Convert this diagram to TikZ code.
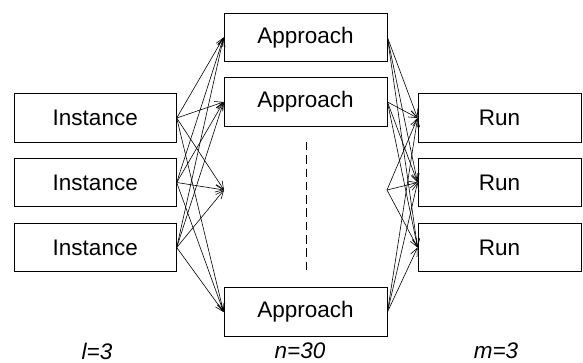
\documentclass[tikz,border=0pt]{standalone}
\usepackage{fontspec}
\setmainfont{Liberation Sans}
\usetikzlibrary{arrows.meta}
\begin{document}
\begin{tikzpicture}[x=1pt,y=-1pt,
  box/.style={draw=black,line width=0.9pt,rectangle,inner sep=0pt,
    minimum width=162pt,minimum height=48.5pt,
    font=\fontsize{22.5}{27}\selectfont},
  link/.style={line width=0.6pt,-{Straight Barb[length=8pt,width=7pt,line width=0.6pt]}},
  countlabel/.style={inner sep=0pt,font=\fontsize{22.5}{27}\selectfont\itshape}]
\useasboundingbox (0,0) rectangle (583,363);

% instances
\node[box] (i1) at (95.25,118) {Instance};
\node[box] (i2) at (95.25,182.5) {Instance};
\node[box] (i3) at (95.25,247.5) {Instance};

% approaches (the third one is elided by the dashed line)
\node[box,minimum width=163pt] (a1) at (305.5,37.5) {Approach};
\node[box,minimum width=163pt] (a2) at (305.5,102) {Approach};
\node[box,minimum width=163pt] (a4) at (305.5,312) {Approach};
\coordinate (a3w) at (224,190);
\coordinate (a3e) at (387,190);

% runs
\node[box,minimum width=163pt] (r1) at (499.5,118) {Run};
\node[box,minimum width=163pt] (r2) at (499.5,182.5) {Run};
\node[box,minimum width=163pt] (r3) at (499.5,247.5) {Run};

% elision mark
\coordinate (dtop) at (306,142);
\coordinate (dbot) at (306,270);
\draw[line width=1pt,dash pattern=on 8.5pt off 4.8pt] (dtop) -- (dbot);

% every instance feeds every approach
\foreach \i in {i1,i2,i3}{
  \draw[link] (\i.east) -- (a1.west);
  \draw[link] (\i.east) -- (a2.west);
  \draw[link] (\i.east) -- (a3w);
  \draw[link] (\i.east) -- (a4.west);
}

% every approach produces every run
\foreach \r in {r1,r2,r3}{
  \draw[link] (a1.east) -- (\r.west);
  \draw[link] (a2.east) -- (\r.west);
  \draw[link] (a3e) -- (\r.west);
  \draw[link] (a4.east) -- (\r.west);
}

% counts
\node[countlabel] (nl) at (97,351) {l=3};
\node[countlabel] (nn) at (300,351) {n=30};
\node[countlabel] (nm) at (496,351) {m=3};
\end{tikzpicture}
\end{document}
